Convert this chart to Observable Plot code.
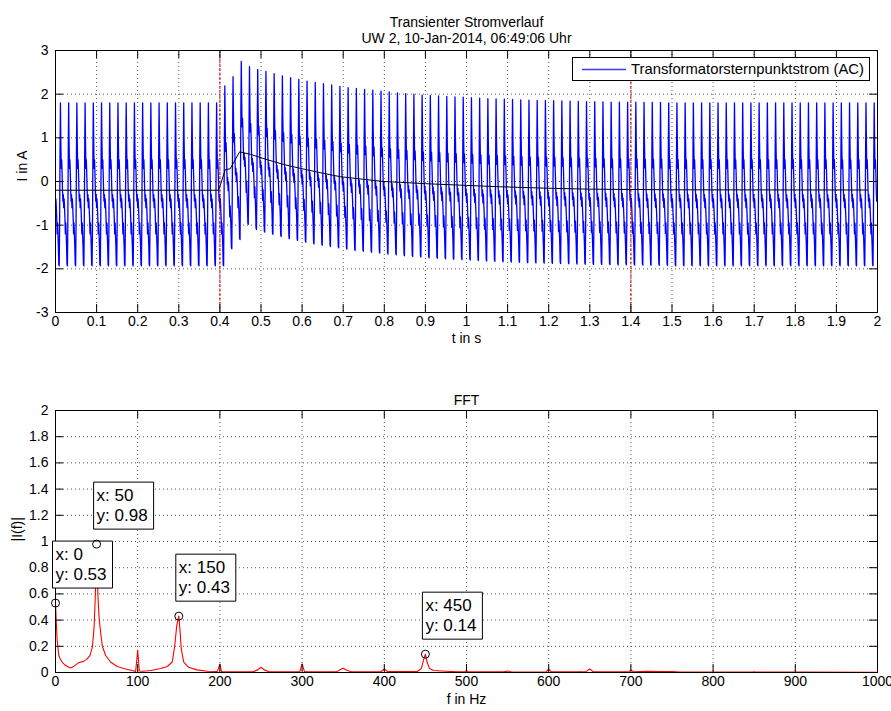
<!DOCTYPE html>
<html>
<head>
<meta charset="utf-8">
<script src="https://cdn.jsdelivr.net/npm/d3@7"></script>
<script src="https://cdn.jsdelivr.net/npm/@observablehq/plot@0.6"></script>
<style>
  html, body { margin: 0; padding: 0; background: #fff; }
  body { font-family: "Liberation Sans", Arial, Helvetica, sans-serif; }
  #wrap { position: relative; width: 891px; height: 711px; overflow: hidden; background: #fff; }
  #top, #bottom { position: absolute; left: 0; }
  #top { top: 0; }
  #bottom { top: 360px; }
  #top svg, #bottom svg { display: block; }
  #legend { position: absolute; left: 572px; top: 57px; width: 296px; height: 22px; border: 1px solid #000; background: #fff; }
  #legend svg { position: absolute; left: 0; top: 0; }
  #legend .label { position: absolute; left: 58px; top: 0; line-height: 22px; font-size: 14.8px; color: #000; white-space: nowrap; }
</style>
</head>
<body>
<div id="wrap">
  <div id="top"></div>
  <div id="bottom"></div>
  <div id="legend">
    <svg width="60" height="22"><line x1="9" x2="53" y1="11.5" y2="11.5" stroke="#3a3aff" stroke-width="1.3"></line></svg>
    <div class="label">Transformatorsternpunktstrom (AC)</div>
  </div>
</div>
<script>
// ---------------- data ----------------
const timeTicks = [0, 0.1, 0.2, 0.3, 0.4, 0.5, 0.6, 0.7, 0.8, 0.9, 1, 1.1, 1.2, 1.3, 1.4, 1.5, 1.6, 1.7, 1.8, 1.9, 2];
const currentTicks = [-3, -2, -1, 0, 1, 2, 3];
const freqTicks = [0, 100, 200, 300, 400, 500, 600, 700, 800, 900, 1000];
const magTicks = [0, 0.2, 0.4, 0.6, 0.8, 1, 1.2, 1.4, 1.6, 1.8, 2];

// vertical event markers (s)
const markerTimes = [0.4, 1.4];

// one 50 Hz period of the measured current, 1 ms steps, starting on the rising edge (A)
const cycleShape = [-1.0, 0.6, 1.8, 0.9, 0.3, 0.5, 0.2, -0.2, -0.45, -0.3,
                    -0.6, -0.4, -0.6, -0.85, -1.2, -0.95, -1.2, -1.5, -1.9, -1.93];
// per-period DC shift of the waveform during the transient (A), periods 0..100
const cycleOffset = [
  0, 0, 0, 0, 0, 0, 0, 0, 0, 0,
  0, 0, 0, 0, 0, 0, 0, 0, 0, 0,
  0, 0.39, 0.6, 0.95, 0.83, 0.77, 0.72, 0.67, 0.62, 0.58,
  0.54, 0.5, 0.47, 0.44, 0.41, 0.38, 0.35, 0.33, 0.31, 0.29,
  0.27, 0.25, 0.23, 0.21, 0.2, 0.18, 0.17, 0.16, 0.15, 0.14,
  0.13, 0.12, 0.11, 0.1, 0.09, 0.085, 0.08, 0.07, 0.065, 0.06,
  0.055, 0.05, 0.045, 0.04, 0.035, 0.03, 0.03, 0.025, 0.02, 0.02,
  0.015, 0.015, 0.01, 0.01, 0.01, 0, 0, 0, 0, 0,
  0, 0, 0, 0, 0, 0, 0, 0, 0, 0,
  0, 0, 0, 0, 0, 0, 0, 0, 0, 0,
  0
];
const sampleStep = 0.001;   // s
const samplePhase = 10;     // position of t = 0 within cycleShape
const sampleCount = 2000;

// black mean-value curve
const trendT = [0, 0.397, 0.413, 0.425, 0.448, 0.475, 0.515, 0.555, 0.596, 0.65, 0.693, 0.75, 0.798, 0.84, 0.9, 1.0, 1.08, 1.2, 1.3, 1.5, 1.976];
const trendI = [-0.2, -0.2, 0.27, 0.29, 0.68, 0.62, 0.5, 0.39, 0.3, 0.19, 0.11, 0.05, 0.0, -0.02, -0.05, -0.09, -0.12, -0.155, -0.175, -0.19, -0.195];

// FFT magnitude spectrum
const fftFreq = [0, 1, 2, 4, 6, 8, 12, 18, 22, 28, 34, 38, 42, 45, 47, 48.5, 50, 51.5, 53, 55, 57, 61, 67, 75, 83, 93, 97.5,
  100, 102, 106, 116, 128, 136, 142, 145, 147.5, 150, 151.5, 153, 156, 162, 172, 185, 197,
  200, 202, 240, 246, 250, 254, 260, 297, 300, 303, 342, 347, 350, 355, 360, 396, 400, 404,
  440, 445, 448, 450, 452, 455, 460, 475, 490, 498, 500, 502, 545, 550, 555, 597, 600, 603,
  645, 650, 654, 697, 700, 703, 720, 735, 750, 760, 800, 848, 850, 852, 900, 1000];
const fftMag = [0.53, 0.38, 0.25, 0.13, 0.1, 0.08, 0.055, 0.035, 0.045, 0.075, 0.085, 0.1, 0.13, 0.2, 0.35, 0.6, 0.98, 0.6, 0.42, 0.3, 0.2, 0.13, 0.08, 0.046, 0.03, 0.015, 0.008,
  0.17, 0.012, 0.01, 0.015, 0.03, 0.046, 0.08, 0.2, 0.36, 0.43, 0.32, 0.18, 0.08, 0.04, 0.02, 0.01, 0.008,
  0.065, 0.005, 0.005, 0.02, 0.04, 0.02, 0.005, 0.005, 0.066, 0.005, 0.005, 0.025, 0.033, 0.015, 0.006, 0.006, 0.028, 0.008,
  0.008, 0.03, 0.1, 0.14, 0.08, 0.03, 0.015, 0.01, 0.005, 0.006, 0.015, 0.005, 0.005, 0.012, 0.004, 0.005, 0.028, 0.005,
  0.005, 0.028, 0.006, 0.005, 0.02, 0.006, 0.01, 0.008, 0.008, 0.003, 0.003, 0.003, 0.006, 0.003, 0.003, 0.002];

// data tips
const tipFreq = [0, 50, 150, 450];
const tipMag = [0.53, 0.98, 0.43, 0.14];

// ---------------- tables ----------------
const wave = d3.range(sampleCount).map(n => {
  const j = n + samplePhase;
  const L = cycleShape.length;
  return { t: n * sampleStep, i: cycleShape[j % L] + cycleOffset[Math.floor(j / L)] };
});
const trend = trendT.map((t, k) => ({ t, i: trendI[k] }));
const spectrum = fftFreq.map((f, k) => ({ f, m: fftMag[k] }));
const tips = tipFreq.map((f, k) => ({ f, m: tipMag[k] }));

// ---------------- styling ----------------
const fontFamily = '"Liberation Sans", Arial, Helvetica, sans-serif';
const gridStyle = { stroke: "#000", strokeOpacity: 0.65, strokeDasharray: "1,3", strokeWidth: 1 };
const fmt = d => String(d);
const W = 891, mL = 55, mR = 14;
const frameW = W - mL - mR;   // 822
const frameH = 262;
const tickLen = 8;

// data tip box drawn relative to the tip point
const tipBox = { draw(context) { context.rect(-3, -62, 60, 47); } };

// ---------------- top: transient current ----------------
const topPlot = Plot.plot({
  width: W, height: 360,
  marginTop: 50, marginBottom: 48, marginLeft: mL, marginRight: mR,
  style: { fontFamily, fontSize: "14px", color: "#000", background: "#fff", overflow: "visible" },
  x: { domain: [0, 2] },
  y: { domain: [-3, 3] },
  marks: [
    Plot.gridX(timeTicks, gridStyle),
    Plot.gridY(currentTicks, gridStyle),
    Plot.line(wave, { x: "t", y: "i", stroke: "#0000ff", strokeWidth: 1.3 }),
    Plot.line(trend, { x: "t", y: "i", stroke: "#000", strokeWidth: 1 }),
    Plot.ruleX(markerTimes, { stroke: "#cc0000", strokeWidth: 1, strokeDasharray: "3,1.5" }),
    Plot.frame({ stroke: "#000" }),
    Plot.tickX(timeTicks, { insetTop: frameH - tickLen, stroke: "#000" }),
    Plot.tickX(timeTicks, { insetBottom: frameH - tickLen, stroke: "#000" }),
    Plot.tickY(currentTicks, { insetRight: frameW - tickLen, stroke: "#000" }),
    Plot.tickY(currentTicks, { insetLeft: frameW - tickLen, stroke: "#000" }),
    Plot.axisX(timeTicks, { tickSize: 0, tickPadding: 4, tickFormat: fmt, label: null, fontSize: 14 }),
    Plot.axisY(currentTicks, { tickSize: 0, tickPadding: 7, tickFormat: fmt, label: null, fontSize: 14 }),
    Plot.text(["Transienter Stromverlauf"], { frameAnchor: "top", dy: -33, fontSize: 14 }),
    Plot.text(["UW 2, 10-Jan-2014, 06:49:06 Uhr"], { frameAnchor: "top", dy: -17, fontSize: 14 }),
    Plot.text(["t in s"], { frameAnchor: "bottom", dy: 30, fontSize: 14 }),
    Plot.text(["I in A"], { frameAnchor: "left", dx: -33, rotate: -90, fontSize: 14 })
  ]
});
document.getElementById("top").appendChild(topPlot);

// ---------------- bottom: FFT ----------------
const bottomPlot = Plot.plot({
  width: W, height: 351,
  marginTop: 50, marginBottom: 39, marginLeft: mL, marginRight: mR,
  style: { fontFamily, fontSize: "14px", color: "#000", background: "#fff", overflow: "visible" },
  x: { domain: [0, 1000] },
  y: { domain: [0, 2] },
  marks: [
    Plot.gridX(freqTicks, gridStyle),
    Plot.gridY(magTicks, gridStyle),
    Plot.line(spectrum, { x: "f", y: "m", stroke: "#ff0000", strokeWidth: 1.1 }),
    Plot.frame({ stroke: "#000" }),
    Plot.tickX(freqTicks, { insetTop: frameH - tickLen, stroke: "#000" }),
    Plot.tickX(freqTicks, { insetBottom: frameH - tickLen, stroke: "#000" }),
    Plot.tickY(magTicks, { insetRight: frameW - tickLen, stroke: "#000" }),
    Plot.tickY(magTicks, { insetLeft: frameW - tickLen, stroke: "#000" }),
    Plot.dot(tips, { x: "f", y: "m", symbol: tipBox, r: 5, fill: "#fff", stroke: "#000", strokeWidth: 1 }),
    Plot.dot(tips, { x: "f", y: "m", r: 4, fill: "none", stroke: "#000", strokeWidth: 1 }),
    Plot.text(tips, { x: "f", y: "m", text: d => `x: ${d.f}`, textAnchor: "start", dx: 0, dy: -48.5, fontSize: 17 }),
    Plot.text(tips, { x: "f", y: "m", text: d => `y: ${d.m.toFixed(2)}`, textAnchor: "start", dx: 0, dy: -28.5, fontSize: 17 }),
    Plot.axisX(freqTicks, { tickSize: 0, tickPadding: 4, tickFormat: fmt, label: null, fontSize: 14 }),
    Plot.axisY(magTicks, { tickSize: 0, tickPadding: 7, tickFormat: fmt, label: null, fontSize: 14 }),
    Plot.text(["FFT"], { frameAnchor: "top", dy: -15, fontSize: 14 }),
    Plot.text(["f in Hz"], { frameAnchor: "bottom", dy: 31, fontSize: 14 }),
    Plot.text(["|I(f)|"], { frameAnchor: "left", dx: -38, rotate: -90, fontSize: 14 })
  ]
});
document.getElementById("bottom").appendChild(bottomPlot);
</script>
</body>
</html>
